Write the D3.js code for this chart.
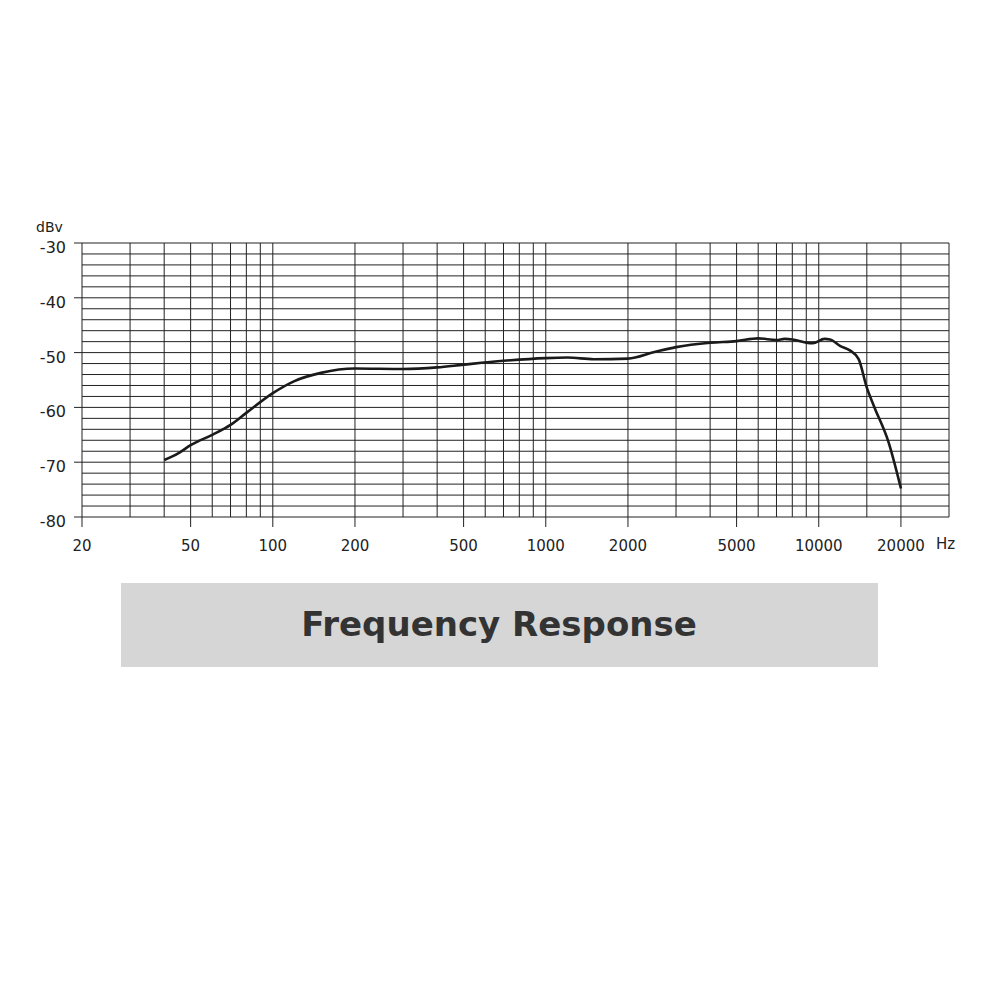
<!DOCTYPE html><html><head><meta charset="utf-8"><script src="https://cdn.jsdelivr.net/npm/d3@7"></script>
<style>body{margin:0;background:#fff}</style></head><body><svg id="c" width="1000" height="1000"></svg><script>
const freqs=[40,45,50,60,70,80,100,120,150,200,300,400,500,700,1000,1200,1500,2000,2500,3000,4000,5000,6000,7000,7500,8000,9000,9500,10500,11000,12000,13000,14000,15000,16000,18000,20000];
const dbv=[-69.6,-68.4,-66.9,-65,-63.2,-61,-57.4,-55.2,-53.7,-52.9,-53,-52.7,-52.2,-51.5,-51,-50.9,-51.2,-51.1,-49.9,-49,-48.2,-47.9,-47.4,-47.7,-47.5,-47.6,-48.2,-48.3,-47.5,-47.6,-48.8,-49.6,-51.2,-56.4,-60,-66.3,-74.8];
const xLabels=[20,50,100,200,500,1000,2000,5000,10000,20000];
const yLabels=[-30,-40,-50,-60,-70,-80];
const svg=d3.select("#c");
const x=d3.scaleLog().domain([20,30000]).range([82,949]);
const y=d3.scaleLinear().domain([-80,-30]).range([517,243]);
const vgrid=[];for(const d of [10,100,1000])for(let k=(d==10?2:1);k<=9;k++)vgrid.push(k*d);vgrid.push(10000,15000,20000,30000);
const hgrid=d3.range(-80,-29,2);
const g=svg.append("g").attr("stroke","#222").attr("stroke-width",1);
g.selectAll(".h").data(hgrid).enter().append("line").attr("x1",82).attr("x2",949).attr("y1",d=>y(d)).attr("y2",d=>y(d));
g.selectAll(".v").data(vgrid).enter().append("line").attr("x1",d=>x(d)).attr("x2",d=>x(d)).attr("y1",243).attr("y2",517);
g.selectAll(".t").data(xLabels).enter().append("line").attr("x1",d=>x(d)).attr("x2",d=>x(d)).attr("y1",517).attr("y2",527);
g.selectAll(".yt").data(yLabels).enter().append("line").attr("x1",74).attr("x2",82).attr("y1",d=>y(d)).attr("y2",d=>y(d));
const f="DejaVu Sans, sans-serif";
svg.selectAll(".xl").data(xLabels).enter().append("text").attr("x",d=>x(d)).attr("y",551).attr("text-anchor","middle").attr("font-family",f).attr("font-size",15).attr("fill","#222").text(d=>d);
svg.append("text").attr("x",936).attr("y",549).attr("font-family",f).attr("font-size",15).attr("fill","#222").text("Hz");
svg.selectAll(".yl").data(yLabels).enter().append("text").attr("x",66).attr("y",d=>y(d)+10).attr("text-anchor","end").attr("font-family",f).attr("font-size",16).attr("fill","#222").text(d=>d);
svg.append("text").attr("x",36).attr("y",232).attr("font-family",f).attr("font-size",14).attr("fill","#222").text("dBv");
svg.append("path").datum(freqs.map((d,i)=>[d,dbv[i]])).attr("fill","none").attr("stroke","#1a1a1a").attr("stroke-width",2.6)
 .attr("d",d3.line().x(d=>x(d[0])).y(d=>y(d[1])).curve(d3.curveMonotoneX));
svg.append("rect").attr("x",121).attr("y",583).attr("width",757).attr("height",84).attr("fill","#d6d6d6");
svg.append("text").attr("x",499).attr("y",636).attr("text-anchor","middle").attr("font-family",f).attr("font-weight","bold").attr("font-size",34).attr("fill","#333").text("Frequency Response");
</script></body></html>
